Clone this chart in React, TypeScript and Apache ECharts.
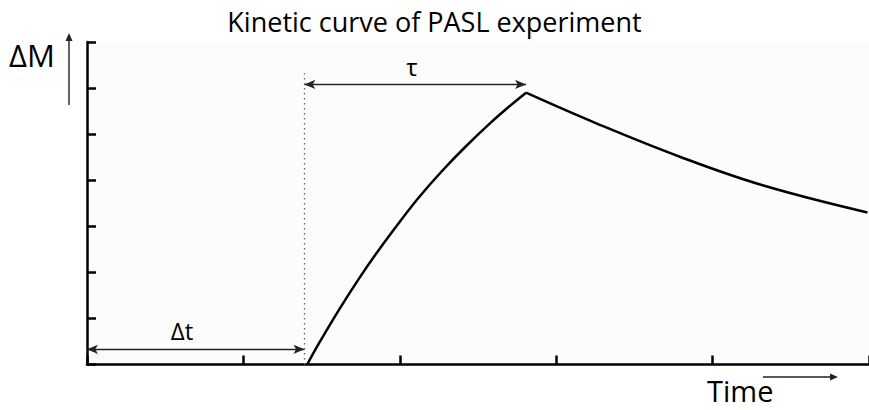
import React, { useEffect, useRef } from "react";
import * as echarts from "echarts";

// Rising limb of the signal after the bolus arrives (time, ΔM)
const riseTime = [1.408, 1.48, 1.61, 1.74, 1.86, 2.0, 2.12, 2.27, 2.415, 2.585, 2.71, 2.807];
const riseSignal = [0, 0.44, 1.18, 1.87, 2.46, 3.1, 3.62, 4.2, 4.71, 5.26, 5.63, 5.9];

// Decay after the bolus has passed
const decayTime = [2.807, 3.26, 3.79, 4.32, 4.99];
const decaySignal = [5.9, 5.23, 4.51, 3.89, 3.3];

// Transit delay Δt and bolus duration τ on the time axis
const transitDelay = 1.39;
const bolusEnd = 2.807;
const tauLevel = 6.08;
const deltaTLevel = 0.33;
const dottedTop = 6.32;

const FONT = "Open Sans";

export default function App() {
  const ref = useRef<HTMLDivElement>(null);

  useEffect(() => {
    if (!ref.current) return;
    const chart = echarts.init(ref.current, null, { renderer: "svg" });

    const rise = riseTime.map((t, i) => [t, riseSignal[i]]);
    const decay = decayTime.map((t, i) => [t, decaySignal[i]]);

    const axisLine = { show: true, lineStyle: { color: "#000", width: 2.5 } };
    const axisTick = { show: true, inside: true, length: 9, lineStyle: { color: "#000", width: 2.5 } };

    const arrowStyle = { color: "#222", width: 1.4, type: "solid" as const };

    chart.setOption({
      animation: false,
      backgroundColor: "#fff",
      title: {
        text: "Kinetic curve of PASL experiment",
        left: "center",
        top: 3,
        textStyle: { fontFamily: FONT, fontSize: 27, fontWeight: "normal", color: "#000" },
      },
      grid: {
        left: 87,
        top: 42,
        width: 786,
        height: 322.5,
        show: true,
        borderWidth: 0,
        backgroundColor: "#fcfcfc",
      },
      xAxis: {
        type: "value",
        min: 0,
        max: 5,
        interval: 1,
        axisLine,
        axisTick,
        axisLabel: { show: false },
        splitLine: { show: false },
      },
      yAxis: {
        type: "value",
        min: 0,
        max: 7,
        interval: 1,
        axisLine,
        axisTick,
        axisLabel: { show: false },
        splitLine: { show: false },
      },
      series: [
        {
          type: "line",
          data: rise,
          smooth: 0.35,
          showSymbol: false,
          lineStyle: { color: "#000", width: 2.5 },
          markLine: {
            silent: true,
            symbol: ["arrow", "arrow"],
            symbolSize: [7, 11],
            label: { show: false },
            lineStyle: arrowStyle,
            data: [
              [{ coord: [transitDelay, tauLevel] }, { coord: [bolusEnd, tauLevel] }],
              [{ coord: [0, deltaTLevel] }, { coord: [transitDelay, deltaTLevel] }],
            ],
          },
        },
        {
          type: "line",
          data: decay,
          smooth: 0.4,
          showSymbol: false,
          lineStyle: { color: "#000", width: 2.5 },
          markLine: {
            silent: true,
            symbol: "none",
            label: { show: false },
            lineStyle: { color: "#666", width: 1.3, type: [1.5, 3.5] },
            data: [[{ coord: [transitDelay, 0] }, { coord: [transitDelay, dottedTop] }]],
          },
        },
      ],
      graphic: [
        {
          type: "text",
          left: 9,
          top: 39,
          style: { text: "ΔM", fontFamily: FONT, fontSize: 31, fill: "#000" },
        },
        {
          type: "line",
          shape: { x1: 69, y1: 105, x2: 69, y2: 38 },
          style: { stroke: "#222", lineWidth: 1.4 },
        },
        {
          type: "polygon",
          shape: { points: [[69, 33], [65.5, 41], [72.5, 41]] },
          style: { fill: "#222" },
        },
        {
          type: "text",
          x: 182,
          y: 330,
          style: {
            text: "Δt",
            fontFamily: FONT,
            fontSize: 24,
            fill: "#000",
            align: "center",
            verticalAlign: "middle",
          },
        },
        {
          type: "text",
          x: 412,
          y: 66,
          style: {
            text: "τ",
            fontFamily: FONT,
            fontSize: 24,
            fill: "#000",
            align: "center",
            verticalAlign: "middle",
          },
        },
        {
          type: "text",
          x: 707,
          y: 390,
          style: {
            text: "Time",
            fontFamily: FONT,
            fontSize: 29,
            lineHeight: 29,
            fill: "#000",
            verticalAlign: "middle",
          },
        },
        {
          type: "line",
          shape: { x1: 763, y1: 377, x2: 831, y2: 377 },
          style: { stroke: "#222", lineWidth: 1.4 },
        },
        {
          type: "polygon",
          shape: { points: [[838, 377], [830, 373.5], [830, 380.5]] },
          style: { fill: "#222" },
        },
      ],
    });

    return () => chart.dispose();
  }, []);

  return (
    <div
      ref={ref}
      style={{ position: "fixed", left: 0, top: 0, width: 869, height: 410 }}
    />
  );
}
